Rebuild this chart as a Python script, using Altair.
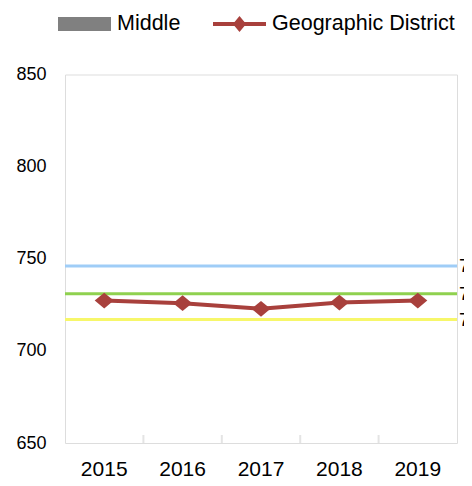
import altair as alt
import pandas as pd

years = ["2015", "2016", "2017", "2018", "2019"]
district = [727.3, 725.9, 722.8, 726.2, 727.3]

ref_values = [746, 731, 717]
ref_names = ["ref_a", "ref_b", "ref_c"]
ref_colors = ["#9fcdf7", "#8fd14f", "#f7f76a"]
ref_right_labels = ["746", "731", "717"]
ref_left_labels = ["749", "733", "721"]

y_ticks = [650, 700, 750, 800, 850]
legend_names = ["Middle", "Geographic District"]
legend_colors = ["#808080", "#a8403c"]

RED = "#a8403c"
BORDER = "#d9d9d9"
FONT = "Liberation Sans"

W, H = 392, 368.5

line_df = pd.DataFrame({"year": years, "value": district})
ref_df = pd.DataFrame({"name": ref_names, "value": ref_values,
                       "rlabel": ref_right_labels, "llabel": ref_left_labels})
tick_df = pd.DataFrame({"year": years[1:]})
legend_df = pd.DataFrame({"series": legend_names})

x_scale = alt.Scale(type="band", domain=years, paddingInner=0, paddingOuter=0)
y_scale = alt.Scale(domain=[650, 850], nice=False, zero=False)

x_axis = alt.Axis(title=None, domain=False, ticks=False, grid=False, labelAngle=0,
                  labelFont=FONT, labelFontSize=21, labelColor="#000000",
                  labelPadding=15)
y_axis = alt.Axis(title=None, domain=False, ticks=False, tickSize=0, grid=False,
                  values=y_ticks, labelFont=FONT, labelFontSize=18,
                  labelColor="#000000", labelPadding=19)

base_x = alt.X("year:N", scale=x_scale, axis=x_axis, bandPosition=0.5)

rules = alt.Chart(ref_df).mark_rule(strokeWidth=3).encode(
    y=alt.Y("value:Q", scale=y_scale, axis=y_axis),
    stroke=alt.Stroke("name:N", scale=alt.Scale(domain=ref_names, range=ref_colors), legend=None),
)

right_text = alt.Chart(ref_df).mark_text(align="left", baseline="middle", dx=2,
                                         font=FONT, fontSize=19, color="#000000").encode(
    y=alt.Y("value:Q", scale=y_scale),
    x=alt.value(W),
    text="rlabel:N",
)

left_text = alt.Chart(ref_df).mark_text(align="right", baseline="middle", dy=-6,
                                        font=FONT, fontSize=19, color="#000000").encode(
    y=alt.Y("value:Q", scale=y_scale),
    x=alt.value(-57),
    text="llabel:N",
)

ticks = alt.Chart(tick_df).mark_tick(orient="vertical", size=8, thickness=2,
                                     color=BORDER, yOffset=-4).encode(
    x=alt.X("year:N", scale=x_scale, axis=x_axis, bandPosition=0),
    y=alt.datum(650, scale=y_scale),
)

line = alt.Chart(line_df).mark_line(color=RED, strokeWidth=4).encode(
    x=base_x,
    y=alt.Y("value:Q", scale=y_scale, axis=y_axis),
)

points = alt.Chart(line_df).mark_point(shape="M-1,0L0,-0.83L1,0L0,0.83Z", filled=True,
                                       size=361, color=RED, opacity=1).encode(
    x=base_x,
    y=alt.Y("value:Q", scale=y_scale, axis=y_axis),
)

legend = alt.Legend(title=None, orient="none", legendX=-7, legendY=-77,
                    direction="horizontal", symbolSize=2809, symbolStrokeWidth=0,
                    symbolOpacity=1, labelFont=FONT, labelFontSize=21.5,
                    labelColor="#000000", labelOffset=6, columnPadding=32,
                    padding=0, labelLimit=400)

legend_layer = alt.Chart(legend_df).mark_point(filled=True, opacity=0).encode(
    color=alt.Color("series:N", scale=alt.Scale(domain=legend_names, range=legend_colors),
                    legend=legend),
    shape=alt.Shape("series:N",
                    scale=alt.Scale(domain=legend_names,
                                    range=["M-1,-0.26H1V0.26H-1Z",
                                           "M-1,-0.075H1V0.075H-1Z M-0.25,0L0,-0.3L0.25,0L0,0.3Z"]),
                    legend=legend),
)

chart = alt.layer(rules, right_text, left_text, ticks, line, points, legend_layer).properties(
    width=W, height=H,
    autosize=alt.AutoSizeParams(type="none"),
    padding={"left": 57, "top": 66.5, "right": 7, "bottom": 35},
).configure_view(stroke=BORDER, strokeWidth=2).configure(background="#ffffff")

chart.save("out.html", embed_options={"renderer": "svg", "actions": False})
